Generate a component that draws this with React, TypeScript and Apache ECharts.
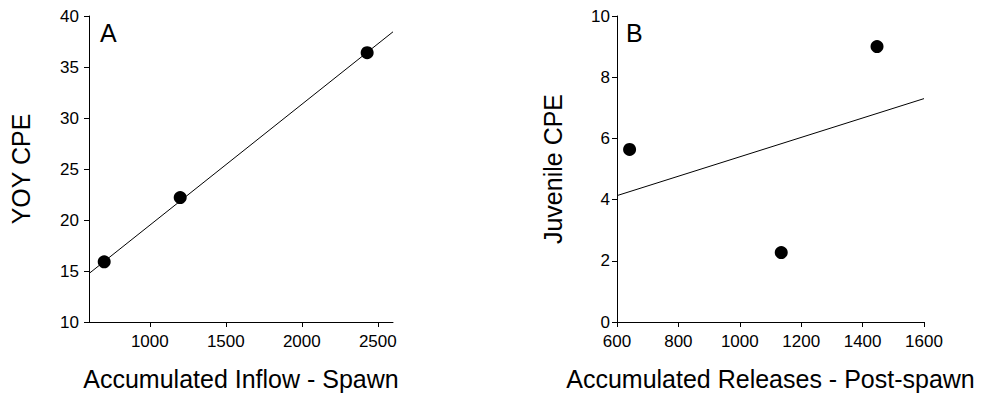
import React, { useEffect, useRef } from "react";
import * as echarts from "echarts";

// Panel A: YOY CPE vs Accumulated Inflow - Spawn
const inflowA = [700, 1200, 2430];
const yoyCpeA = [15.9, 22.2, 36.4];
const fitA = [
  [600, 14.75],
  [2600, 38.45],
];
const xTicksA = [1000, 1500, 2000, 2500];

// Panel B: Juvenile CPE vs Accumulated Releases - Post-spawn
const releasesB = [641, 1135, 1447];
const juvCpeB = [5.64, 2.27, 9.0];
const fitB = [
  [600, 4.13],
  [1600, 7.3],
];

const FONT = "Arial, 'Liberation Sans', sans-serif";

export default function App() {
  const ref = useRef<HTMLDivElement>(null);
  useEffect(() => {
    document.body.style.margin = "0";
    const chart = echarts.init(ref.current!, null, { renderer: "svg" });
    const axisLine = { lineStyle: { color: "#000", width: 1 } };
    const axisTick = { length: 5, lineStyle: { color: "#000", width: 1 } };
    const fmt = (v: number) => String(v);
    const tickLabel = { color: "#000", fontSize: 17, fontFamily: FONT, formatter: fmt };
    const nameStyle = { color: "#000", fontSize: 25, fontFamily: FONT };
    chart.setOption({
      animation: false,
      backgroundColor: "#fff",
      grid: [
        { left: 89, top: 16, width: 304, height: 306 },
        { left: 617, top: 16, width: 307, height: 306 },
      ],
      xAxis: [
        {
          gridIndex: 0,
          type: "value",
          min: 600,
          max: 2600,
          name: "Accumulated Inflow - Spawn",
          nameLocation: "middle",
          nameGap: 44,
          nameTextStyle: nameStyle,
          axisLine,
          axisTick: { ...axisTick, customValues: xTicksA },
          axisLabel: { ...tickLabel, margin: 11, customValues: xTicksA },
          splitLine: { show: false },
        },
        {
          gridIndex: 1,
          type: "value",
          min: 600,
          max: 1600,
          interval: 200,
          name: "Accumulated Releases - Post-spawn",
          nameLocation: "middle",
          nameGap: 44,
          nameTextStyle: nameStyle,
          axisLine,
          axisTick,
          axisLabel: { ...tickLabel, margin: 11 },
          splitLine: { show: false },
        },
      ],
      yAxis: [
        {
          gridIndex: 0,
          type: "value",
          min: 10,
          max: 40,
          interval: 5,
          name: "YOY CPE",
          nameLocation: "middle",
          nameRotate: 90,
          nameGap: 56,
          nameTextStyle: nameStyle,
          axisLine: { show: true, ...axisLine },
          axisTick: { show: true, ...axisTick },
          axisLabel: { ...tickLabel, margin: 10 },
          splitLine: { show: false },
        },
        {
          gridIndex: 1,
          type: "value",
          min: 0,
          max: 10,
          interval: 2,
          name: "Juvenile CPE",
          nameLocation: "middle",
          nameRotate: 90,
          nameGap: 52,
          nameTextStyle: nameStyle,
          axisLine: { show: true, ...axisLine },
          axisTick: { show: true, ...axisTick },
          axisLabel: { ...tickLabel, margin: 7 },
          splitLine: { show: false },
        },
      ],
      graphic: [
        {
          type: "text",
          left: 100,
          top: 20,
          style: { text: "A", fontSize: 25, fontFamily: FONT, fill: "#000" },
        },
        {
          type: "text",
          left: 626,
          top: 20,
          style: { text: "B", fontSize: 25, fontFamily: FONT, fill: "#000" },
        },
      ],
      series: [
        {
          type: "line",
          xAxisIndex: 0,
          yAxisIndex: 0,
          data: fitA,
          symbol: "none",
          lineStyle: { color: "#000", width: 1 },
          z: 1,
        },
        {
          type: "scatter",
          xAxisIndex: 0,
          yAxisIndex: 0,
          data: inflowA.map((x, i) => [x, yoyCpeA[i]]),
          symbolSize: 13,
          itemStyle: { color: "#000", opacity: 1 },
          z: 2,
        },
        {
          type: "line",
          xAxisIndex: 1,
          yAxisIndex: 1,
          data: fitB,
          symbol: "none",
          lineStyle: { color: "#000", width: 1 },
          z: 1,
        },
        {
          type: "scatter",
          xAxisIndex: 1,
          yAxisIndex: 1,
          data: releasesB.map((x, i) => [x, juvCpeB[i]]),
          symbolSize: 13,
          itemStyle: { color: "#000", opacity: 1 },
          z: 2,
        },
      ],
    });
    return () => chart.dispose();
  }, []);
  return <div ref={ref} style={{ width: 987, height: 408 }} />;
}
